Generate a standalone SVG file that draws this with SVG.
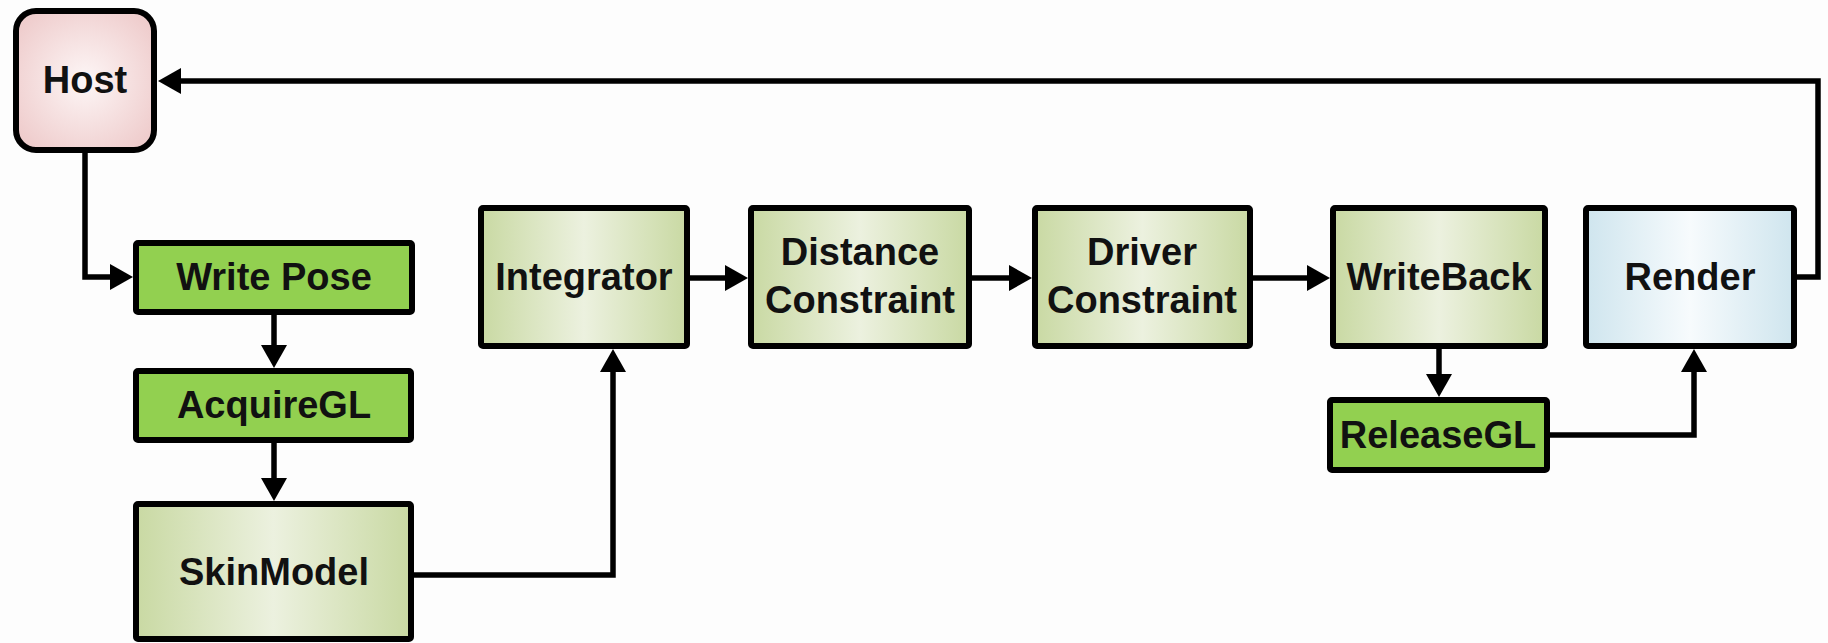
<svg xmlns="http://www.w3.org/2000/svg" width="1828" height="643" viewBox="0 0 1828 643">
<style>
.box{stroke:#000;stroke-width:6}
.lbl{font-family:"Liberation Sans",Arial,sans-serif;font-weight:bold;font-size:38px;fill:#111;text-anchor:middle}
.con{fill:none;stroke:#000;stroke-width:5.5;stroke-linejoin:miter}
</style>
<defs>
<linearGradient id="gLight" x1="0" y1="0" x2="1" y2="0">
<stop offset="0" stop-color="#c9d9a3"/>
<stop offset="0.5" stop-color="#ecf1df"/>
<stop offset="1" stop-color="#c9d9a3"/>
</linearGradient>
<linearGradient id="gBlue" x1="0" y1="0" x2="1" y2="0">
<stop offset="0" stop-color="#cfe5ee"/>
<stop offset="0.5" stop-color="#f7fbfd"/>
<stop offset="1" stop-color="#cfe5ee"/>
</linearGradient>
<radialGradient id="gPink" cx="0.5" cy="0.5" r="0.6">
<stop offset="0" stop-color="#fdf6f6"/>
<stop offset="1" stop-color="#efcdcd"/>
</radialGradient>
<marker id="arr" markerUnits="userSpaceOnUse" markerWidth="24" markerHeight="26" refX="12" refY="13" orient="auto">
<path d="M0,0 L23,13 L0,26 z" fill="#000"/>
</marker>
</defs>
<rect width="1828" height="643" fill="#fdfdfd"/>

<g id="connectors">
<path class="con" d="M1797,277 H1818 V81 H169" marker-end="url(#arr)"/>
<path class="con" d="M85,153 V277 H122" marker-end="url(#arr)"/>
<path class="con" d="M274,315 V357" marker-end="url(#arr)"/>
<path class="con" d="M274,443 V490" marker-end="url(#arr)"/>
<path class="con" d="M414,575 H613 V360" marker-end="url(#arr)"/>
<path class="con" d="M690,278 H737" marker-end="url(#arr)"/>
<path class="con" d="M972,278 H1021" marker-end="url(#arr)"/>
<path class="con" d="M1253,278 H1319" marker-end="url(#arr)"/>
<path class="con" d="M1439,349 V386" marker-end="url(#arr)"/>
<path class="con" d="M1550,435 H1694 V360" marker-end="url(#arr)"/>
</g>

<g id="host">
<rect class="box" x="16" y="11" width="138" height="139" rx="20" fill="url(#gPink)"/>
<text class="lbl" x="85" y="93">Host</text>
</g>
<g id="writepose">
<rect class="box" x="136" y="243" width="276" height="69" rx="2" fill="#92d050"/>
<text class="lbl" x="274" y="290">Write Pose</text>
</g>
<g id="acquiregl">
<rect class="box" x="136" y="371" width="275" height="69" rx="2" fill="#92d050"/>
<text class="lbl" x="274" y="418">AcquireGL</text>
</g>
<g id="skinmodel">
<rect class="box" x="136" y="504" width="275" height="135" rx="2" fill="url(#gLight)"/>
<text class="lbl" x="274" y="585">SkinModel</text>
</g>
<g id="integrator">
<rect class="box" x="481" y="208" width="206" height="138" rx="2" fill="url(#gLight)"/>
<text class="lbl" x="584" y="290">Integrator</text>
</g>
<g id="distance">
<rect class="box" x="751" y="208" width="218" height="138" rx="2" fill="url(#gLight)"/>
<text class="lbl" x="860" y="265">Distance</text>
<text class="lbl" x="860" y="313">Constraint</text>
</g>
<g id="driver">
<rect class="box" x="1035" y="208" width="215" height="138" rx="2" fill="url(#gLight)"/>
<text class="lbl" x="1142" y="265">Driver</text>
<text class="lbl" x="1142" y="313">Constraint</text>
</g>
<g id="writeback">
<rect class="box" x="1333" y="208" width="212" height="138" rx="2" fill="url(#gLight)"/>
<text class="lbl" x="1439" y="290">WriteBack</text>
</g>
<g id="render">
<rect class="box" x="1586" y="208" width="208" height="138" rx="2" fill="url(#gBlue)"/>
<text class="lbl" x="1690" y="290">Render</text>
</g>
<g id="releasegl">
<rect class="box" x="1330" y="400" width="217" height="70" rx="2" fill="#92d050"/>
<text class="lbl" x="1438" y="448">ReleaseGL</text>
</g>
</svg>
